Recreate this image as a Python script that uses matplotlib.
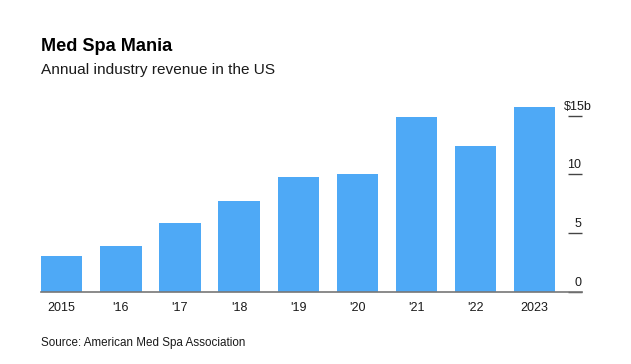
import matplotlib
matplotlib.use("Agg")
import matplotlib.pyplot as plt
import matplotlib.transforms as mtransforms

years = ["2015", "'16", "'17", "'18", "'19", "'20", "'21", "'22", "2023"]
revenue = [3.1, 3.9, 5.9, 7.7, 9.8, 10.0, 14.9, 12.4, 15.7]
ytick_vals = [0, 5, 10, 15]
ytick_labels = ["0", "5", "10", "$15b"]

plt.rcParams["font.family"] = ["Liberation Sans", "DejaVu Sans"]
txt = "#1a1a1a"

fig = plt.figure(figsize=(6.31, 3.64), dpi=100)
ax = fig.add_axes([41 / 631, 1 - 292 / 364, 541 / 631, 194 / 364])

x = range(len(years))
ax.bar(x, revenue, width=0.7, color="#4ea9f6", zorder=2)

ax.set_xlim(-0.35, 8.80)
ax.set_ylim(0, 16.5)

for s in ["top", "left", "right"]:
    ax.spines[s].set_visible(False)
ax.spines["bottom"].set_color("#777777")
ax.spines["bottom"].set_linewidth(1.2)

ax.set_xticks(list(x))
ax.set_xticklabels(years, fontsize=9, color=txt)
ax.tick_params(axis="x", length=0, pad=7)

ax.yaxis.tick_right()
ax.set_yticks(ytick_vals)
ax.set_yticklabels([])
ax.tick_params(axis="y", direction="in", length=10, width=1, color="#444444")

trans = mtransforms.blended_transform_factory(ax.transAxes, ax.transData)
for v, lab in zip(ytick_vals, ytick_labels):
    xpos = 1.0185 if lab.endswith("b") else 0.999
    ax.text(xpos, v + 0.25, lab, transform=trans, ha="right", va="bottom",
            fontsize=9, color=txt)

fig.text(41 / 631, 1 - 51 / 364, "Med Spa Mania", fontsize=13.1,
         fontweight="bold", color="black", ha="left", va="baseline")
fig.text(41 / 631, 1 - 74 / 364, "Annual industry revenue in the US",
         fontsize=11.1, color=txt, ha="left", va="baseline")
fig.text(41 / 631, 1 - 346 / 364, "Source: American Med Spa Association",
         fontsize=8.4, color=txt, ha="left", va="baseline")

fig.savefig("out.png", dpi=100, facecolor="white")
